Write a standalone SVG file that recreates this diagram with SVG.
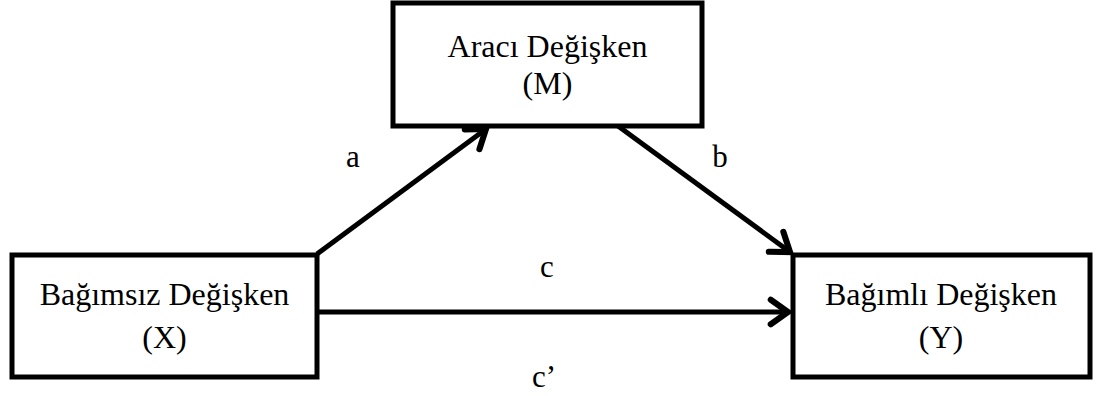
<svg xmlns="http://www.w3.org/2000/svg" width="1100" height="396" viewBox="0 0 1100 396">
<style>
.box{fill:#fff;stroke:#000;stroke-width:5}
.t{font-family:"Liberation Serif","Times New Roman",serif;font-size:32px;fill:#000;text-anchor:middle}
.lbl{font-family:"Liberation Serif","Times New Roman",serif;font-size:31px;fill:#000;text-anchor:middle}
.edge{stroke:#000;stroke-width:5;fill:none}
</style>
<defs>
<marker id="arr" markerUnits="userSpaceOnUse" markerWidth="32" markerHeight="32" refX="19" refY="13" orient="auto" viewBox="0 0 26 26">
<polyline points="5,3 19,13 5,23" fill="none" stroke="#000" stroke-width="5" stroke-linecap="round" stroke-linejoin="miter"/>
</marker>
</defs>
<rect width="1100" height="396" fill="#fff"/>
<g id="connectors">
<line class="edge" x1="317" y1="254" x2="486" y2="129" marker-end="url(#arr)"/>
<line class="edge" x1="618" y1="126" x2="790" y2="252" marker-end="url(#arr)"/>
<line class="edge" x1="317" y1="312" x2="788" y2="312" marker-end="url(#arr)"/>
<text class="lbl" x="353" y="167">a</text>
<text class="lbl" x="720" y="167">b</text>
<text class="lbl" x="547" y="277">c</text>
<text class="lbl" x="544" y="387">c’</text>
</g>
<g id="node-m">
<rect class="box" x="393" y="3" width="309" height="123"/>
<text class="t" x="547.5" y="57">Aracı Değişken</text>
<text class="t" x="547.5" y="94">(M)</text>
</g>
<g id="node-x">
<rect class="box" x="12" y="255" width="305" height="122"/>
<text class="t" x="164.5" y="305">Bağımsız Değişken</text>
<text class="t" x="164.5" y="348">(X)</text>
</g>
<g id="node-y">
<rect class="box" x="793" y="255" width="297" height="122"/>
<text class="t" x="941" y="305">Bağımlı Değişken</text>
<text class="t" x="941" y="348">(Y)</text>
</g>
</svg>
